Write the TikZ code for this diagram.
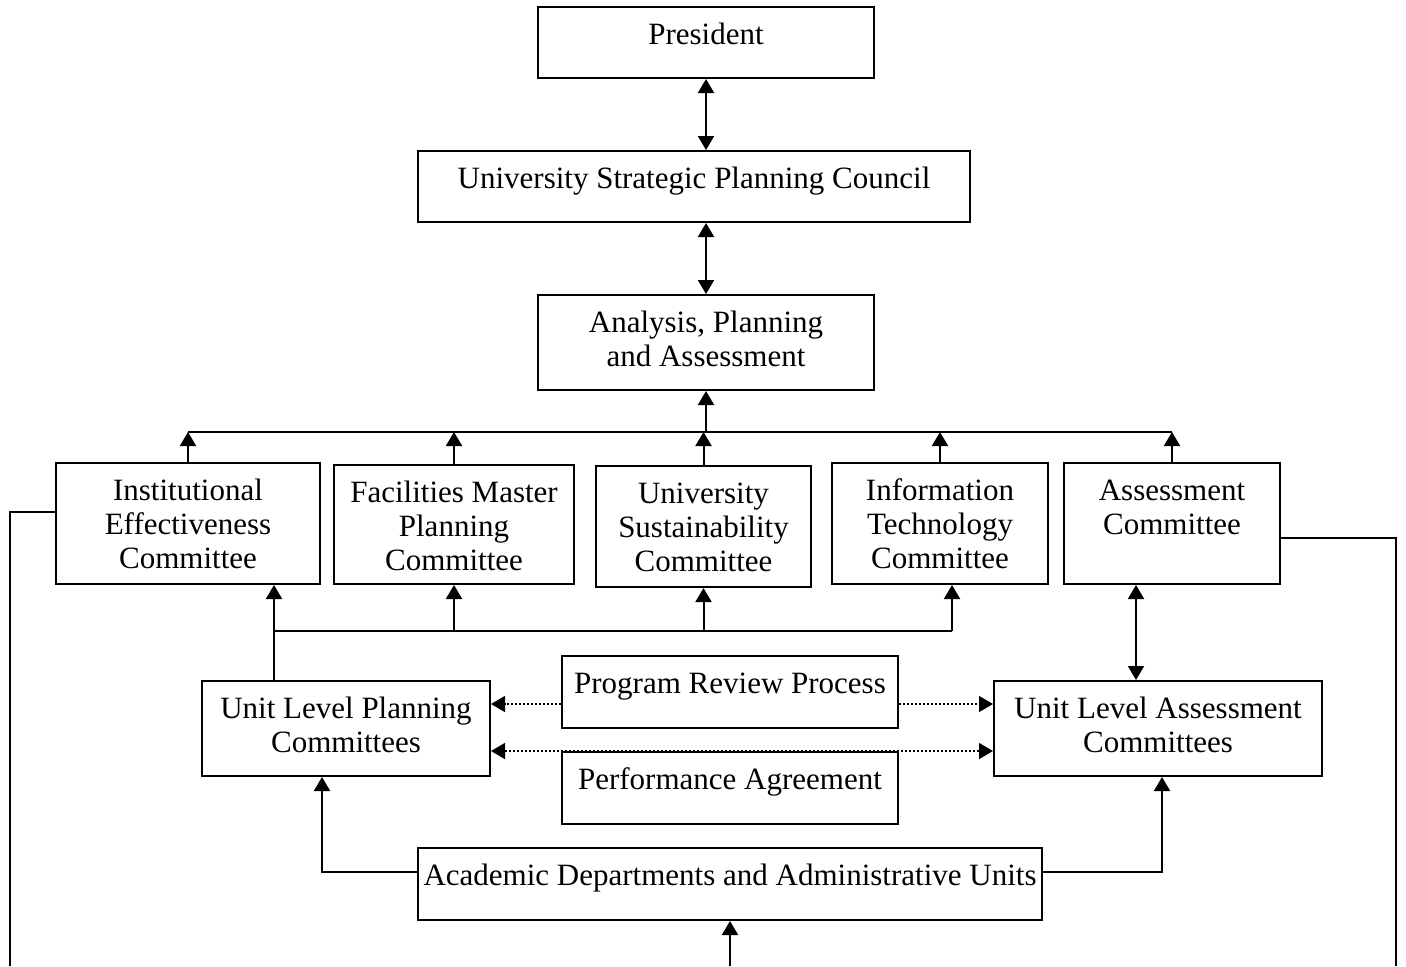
\documentclass[tikz,border=0pt]{standalone}
\usepackage{fontspec}
\setmainfont{Liberation Serif}
\usetikzlibrary{arrows.meta, calc}

\tikzset{
  box/.style={draw, line width=1pt, align=center, anchor=north, inner xsep=0pt, inner ysep=0pt},
  one/.style={text height=18.5pt},
  two/.style={text height=35.5pt},
  three/.style={text height=52.5pt},
  link/.style={line width=1pt},
  flow/.style={line width=0.7pt, dash pattern=on 1pt off 1pt}
}

\begin{document}
\begin{tikzpicture}[x=0.5pt, y=-0.5pt, >={Triangle[length=7pt,width=8pt]}]
\fontsize{15.5}{17}\selectfont
\useasboundingbox (0,0) rectangle (1406,966);
% top of the chain
\node[box, one, minimum width=168pt, text depth=17pt] at (706, 6) (P) {President};
\node[box, one, minimum width=276pt, text depth=17pt] at (694, 150) (SPC) {University Strategic Planning Council};
\node[box, two, minimum width=168pt, text depth=12pt] at (706, 294) (APA) {Analysis, Planning\\and Assessment};
% committees
\node[box, three, minimum width=132pt, text depth=8pt] at (188, 462) (IEC) {Institutional\\Effectiveness\\Committee};
\node[box, three, minimum width=120pt, text depth=7pt] at (454, 464) (FMPC) {Facilities Master\\Planning\\Committee};
\node[box, three, minimum width=107.5pt, text depth=8pt] at (703.5, 465) (USC) {University\\Sustainability\\Committee};
\node[box, three, minimum width=108pt, text depth=8pt] at (940, 462) (ITC) {Information\\Technology\\Committee};
\node[box, two, minimum width=108pt, text depth=25pt] at (1172, 462) (AC) {Assessment\\Committee};
% unit level
\node[box, two, minimum width=144pt, text depth=12pt] at (346, 680) (ULPC) {Unit Level Planning\\Committees};
\node[box, one, minimum width=168pt, text depth=17.5pt] at (730, 655) (PRP) {Program Review Process};
\node[box, one, minimum width=168pt, text depth=17.5pt] at (730, 751) (PA) {Performance Agreement};
\node[box, two, minimum width=164pt, text depth=12pt] at (1158, 680) (ULAC) {Unit Level Assessment\\Committees};
\node[box, one, minimum width=312pt, text depth=17.5pt] at (730, 847) (ADAU) {Academic Departments and Administrative Units};

\coordinate (bus) at (706, 432);
\coordinate (lbus) at (274, 631);
\coordinate (rbus) at (952, 631);
\coordinate (bot) at (730, 966);
\coordinate (lft) at (10, 966);
\coordinate (rgt) at (1396, 966);

\draw[link, <->] (P.south) -- (P.south |- SPC.north);
\draw[link, <->] (APA.north) -- (APA.north |- SPC.south);
\draw[link, ->] (bus) -- (APA.south);
\draw[link] (IEC.north |- bus) -- (AC.north |- bus);
\foreach \n in {IEC, FMPC, USC, ITC, AC}
  \draw[link, ->] (\n.north) -- (\n.north |- bus);

\draw[link] (ULPC.north -| lbus) -- (lbus) -- (rbus);
\draw[link, ->] (lbus) -- (lbus |- IEC.south);
\draw[link, ->] (lbus -| FMPC.south) -- (FMPC.south);
\draw[link, ->] (lbus -| USC.south) -- (USC.south);
\draw[link, ->] (rbus) -- (rbus |- ITC.south);

\draw[flow, ->] ($(PRP.west)+(0,12)$) coordinate (d1) -- (d1 -| ULPC.east);
\draw[flow, ->] ($(PRP.east)+(0,12)$) coordinate (d2) -- (d2 -| ULAC.west);
\draw[flow, <->] (ULPC.east |- PA.north) -- (ULAC.west |- PA.north);

\draw[link, <->] ($(AC.south)+(-36,0)$) coordinate (a1) -- (a1 |- ULAC.north);

\draw[link, ->] ($(ADAU.west)+(0,-12)$) -| ($(ULPC.south)+(-24,0)$);
\draw[link, ->] ($(ADAU.east)+(0,-12)$) -| ($(ULAC.south)+(4,0)$);
\draw[link, ->] (bot) -- (ADAU.south);

\draw[link] ($(IEC.west)+(0,-12)$) -| (lft);
\draw[link] ($(AC.east)+(0,14)$) -| (rgt);
\end{tikzpicture}
\end{document}
